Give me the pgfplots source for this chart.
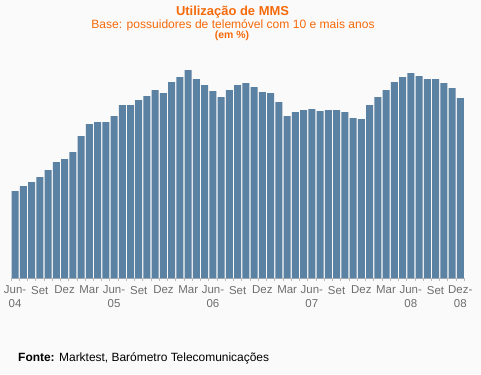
\documentclass[border=0pt]{standalone}
\usepackage{fontspec}
\setmainfont{Liberation Sans}
\usepackage{pgfplots}
\usepackage{pgfplotstable}
\pgfplotsset{compat=1.18}
\definecolor{bgc}{HTML}{FAFAFA}
\definecolor{barc}{HTML}{5B82A2}
\definecolor{orng}{HTML}{F56A0A}
\definecolor{lblc}{HTML}{6E6E6E}
\definecolor{axc}{HTML}{BDBDBD}
\pgfplotstableread{
x y
0 87.3
1 92.3
2 96.3
3 101.3
4 108.3
5 116.3
6 119.3
7 126.3
8 142.3
9 154.3
10 156.3
11 156.3
12 162.3
13 173.3
14 173.3
15 178.3
16 182.3
17 188.3
18 185.3
19 196.3
20 201.3
21 208.3
22 199.3
23 193.3
24 187.3
25 181.3
26 188.3
27 193.3
28 195.3
29 191.3
30 186.3
31 185.3
32 176.3
33 162.3
34 166.3
35 168.3
36 169.3
37 167.3
38 168.3
39 168.3
40 166.3
41 160.3
42 159.3
43 173.3
44 181.3
45 188.3
46 196.3
47 201.3
48 205.3
49 202.3
50 199.3
51 199.3
52 195.3
53 190.3
54 180.3
}\datatable
\begin{document}
\begin{tikzpicture}[x=1bp,y=1bp]
\fill[bgc] (0,0) rectangle (481,374);
\begin{axis}[
  at={(13.3,95.7)}, anchor=south west,
  scale only axis, width=453.4bp, height=220bp,
  xmin=-0.5, xmax=54.5, ymin=0, ymax=220,
  axis x line*=bottom, axis y line=none,
  x axis line style={axc, line width=1.5bp, -},
  xtick={0,3,...,54},
  xticklabels={{Jun-\\04},Set,Dez,Mar,{Jun-\\05},Set,Dez,Mar,{Jun-\\06},Set,Dez,Mar,{Jun-\\07},Set,Dez,Mar,{Jun-\\08},Set,{Dez-\\08}},
  major tick length=0pt,
  minor xtick={-0.5,0.5,...,54.5},
  minor tick length=3bp,
  xtick align=outside,
  minor x tick style={axc, line width=0.8bp},
  xticklabel style={align=center, font=\fontsize{11.5}{14}\selectfont, text=lblc, anchor=north, yshift=-7.5bp, inner sep=0pt},
  ybar, bar width=7bp,
  clip=false,
]
\addplot[fill=barc, draw=none] table[x=x, y=y] {\datatable};
\end{axis}
\node[anchor=base, font=\bfseries\fontsize{13}{15}\selectfont, text=orng] at (232.5,359) {Utilização de MMS};
\node[anchor=base, font=\fontsize{12.1}{14}\selectfont, text=orng] at (233,346) {Base: possuidores de telemóvel com 10 e mais anos};
\node[anchor=base, font=\bfseries\fontsize{10.5}{12}\selectfont, text=orng] at (232,336) {(em \%)};
\node[anchor=base west, font=\fontsize{12}{14}\selectfont, inner sep=0pt] at (18,13) {\textbf{Fonte:} Marktest, Barómetro Telecomunicações};
\end{tikzpicture}
\end{document}
